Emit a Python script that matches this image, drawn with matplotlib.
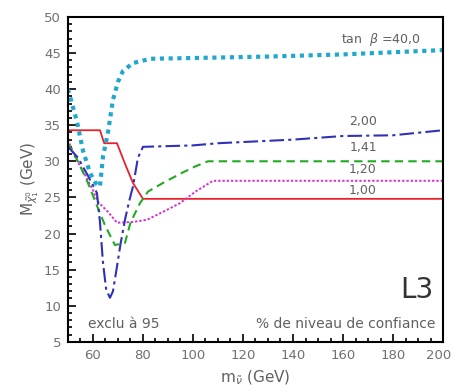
import matplotlib
matplotlib.use("Agg")
from matplotlib import pyplot as plt
from matplotlib.ticker import MultipleLocator
import matplotlib.transforms as mtransforms

plt.rcParams['font.family'] = ['Liberation Sans Narrow', 'DejaVu Sans']

# tan beta = 1.00 (red, solid)
x_100 = [50, 62.8, 64.5, 69.6, 73, 76, 80, 200]
y_100 = [34.3, 34.3, 32.5, 32.5, 29.5, 27, 24.8, 24.8]

# tan beta = 1.20 (magenta, dotted)
x_120 = [50, 53, 57, 60, 62, 66, 69.6, 76, 81.6, 88, 94.8, 101, 108, 200]
y_120 = [33, 30.5, 28, 26, 24.4, 23, 21.5, 21.6, 21.9, 23, 24.2, 25.8, 27.3, 27.3]

# tan beta = 1.41 (green, dashed)
x_141 = [50, 54, 58, 62.8, 65, 68.8, 72.8, 75, 78.8, 82, 88, 95.6, 101, 106, 200]
y_141 = [32.5, 30, 27, 22.8, 21, 18.4, 18.7, 21.5, 24.2, 25.8, 27, 28.4, 29.3, 30, 30]

# tan beta = 2.00 (blue, long dash-dot)
x_200 = [50, 54, 58, 61.6, 62.8, 64, 65.3, 66.8, 68, 69.6, 71, 72.8, 74.5, 76, 78, 80,
         100, 110, 140, 160, 180, 200]
y_200 = [32, 30.5, 28, 25.6, 21.6, 16, 12.2, 11.1, 12, 15.4, 18.5, 21.9, 24.5, 26.5, 30.5, 32,
         32.2, 32.5, 33, 33.5, 33.6, 34.3]

# tan beta = 40.0 (cyan, thick dots)
x_400 = [50, 52, 53.6, 56, 58.8, 61, 62.8, 64, 66, 68, 70, 72, 76, 83, 100, 130, 160, 200]
y_400 = [40, 37.5, 35.5, 31.5, 28.4, 27, 26.5, 30.6, 34, 38.5, 41, 42.5, 43.6, 44.2, 44.3, 44.5, 44.8, 45.4]

fig = plt.figure(figsize=(4.53, 3.92), dpi=100)
ax = fig.add_axes([0.150, 0.128, 0.828, 0.829])

ax.plot(x_100, y_100, color='#e8222a', lw=1.3, ls='-')
ax.plot(x_120, y_120, color='#d62fd0', lw=1.4, ls=(0, (1.2, 1)))
ax.plot(x_141, y_141, color='#22aa22', lw=1.5, ls=(0, (4, 2.5)))
ax.plot(x_200, y_200, color='#3030b8', lw=1.5, ls=(0, (7, 2, 1.5, 2)))
ax.plot(x_400, y_400, color='#20a8cc', lw=3.0, ls=(0, (1, 1.1)))

ax.set_xlim(50, 200)
ax.set_ylim(5, 50)
ax.xaxis.set_major_locator(MultipleLocator(20))
ax.xaxis.set_minor_locator(MultipleLocator(5))
ax.yaxis.set_major_locator(MultipleLocator(5))
ax.yaxis.set_minor_locator(MultipleLocator(1))
ax.set_xticks(range(60, 201, 20))
ax.tick_params(which='both', direction='in', top=False, right=False,
               colors='black', labelcolor='#707070', labelsize=9.5, width=1.2)
ax.tick_params(which='major', length=6, pad=5)
ax.tick_params(which='minor', length=3)
for s in ax.spines.values():
    s.set_linewidth(1.5)

# last x label sits on the figure edge; nudge it inward
last = ax.get_xticklabels()[-1]
last.set_transform(last.get_transform() + mtransforms.ScaledTranslation(-4 / 100, 0, fig.dpi_scale_trans))

ax.set_xlabel(r'm$_{\tilde{\nu}}$ (GeV)', color='#606060', fontsize=11, labelpad=5)
ax.set_ylabel(r'M$_{\tilde{\chi}^0_1}$ (GeV)', color='#606060', fontsize=11, labelpad=2)

tc = '#606060'
ax.text(175, 46.9, r'tan  $\beta$ =40,0', color=tc, fontsize=9, ha='center', va='center')
ax.text(168, 35.5, '2,00', color=tc, fontsize=9, ha='center', va='center')
ax.text(168, 31.9, '1,41', color=tc, fontsize=9, ha='center', va='center')
ax.text(168, 28.8, '1,20', color=tc, fontsize=9, ha='center', va='center')
ax.text(168, 26.0, '1,00', color=tc, fontsize=9, ha='center', va='center')
ax.text(196, 10.2, 'L3', color='#333333', fontsize=20, ha='right', va='bottom')
ax.text(197, 7.5, '% de niveau de confiance', color=tc, fontsize=10, ha='right', va='center')
ax.text(58, 7.5, 'exclu à 95', color=tc, fontsize=10, ha='left', va='center')

fig.savefig('out.png', dpi=100)
